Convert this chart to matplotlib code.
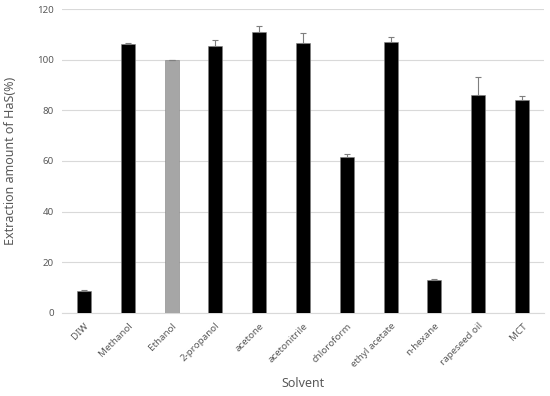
import matplotlib
matplotlib.use("Agg")
import matplotlib.pyplot as plt
import numpy as np

solvents = ["DIW", "Methanol", "Ethanol", "2-propanol", "acetone", "acetonitrile",
            "chloroform", "ethyl acetate", "n-hexane", "rapeseed oil", "MCT"]
extraction = [8.6, 106.3, 100.0, 105.6, 111.0, 106.6, 61.6, 107.1, 12.9, 85.9, 83.9]
errors = [0.3, 0.3, 0.0, 2.3, 2.4, 3.8, 1.3, 1.8, 0.3, 7.2, 1.8]
colors = ["black", "black", "#a6a6a6", "black", "black", "black",
          "black", "black", "black", "black", "black"]

plt.rcParams["font.family"] = ["Noto Sans", "DejaVu Sans"]

fig = plt.figure(figsize=(5.5, 3.96), dpi=100)
ax = fig.add_axes([0.113, 0.21, 0.876, 0.767])

x = np.arange(len(solvents))
ax.bar(x, extraction, width=0.32, color=colors, edgecolor="#808080", linewidth=0.4, zorder=3)
ax.errorbar(x, extraction, yerr=[np.zeros(len(errors)), errors], fmt="none",
            ecolor="#7f7f7f", elinewidth=0.8, capsize=2, capthick=0.8, zorder=4)

ax.set_xlim(-0.5, len(solvents) - 0.5)
ax.set_ylim(0, 120)
ax.set_yticks(range(0, 121, 20))
ax.yaxis.grid(True, color="#d9d9d9", linewidth=0.8, zorder=0)
ax.set_xticks(x)
ax.set_xticklabels(solvents, rotation=45, ha="right", rotation_mode="anchor")
ax.tick_params(axis="both", length=0, labelsize=7, colors="#595959", pad=6)

for s in ["top", "right", "left"]:
    ax.spines[s].set_visible(False)
ax.spines["bottom"].set_color("#d9d9d9")

ax.set_xlabel("Solvent", fontsize=9, color="#595959", labelpad=6)
ax.set_ylabel("Extraction amount of HaS(%)", fontsize=9, color="#595959", labelpad=14)

fig.savefig("out.png", dpi=100)
